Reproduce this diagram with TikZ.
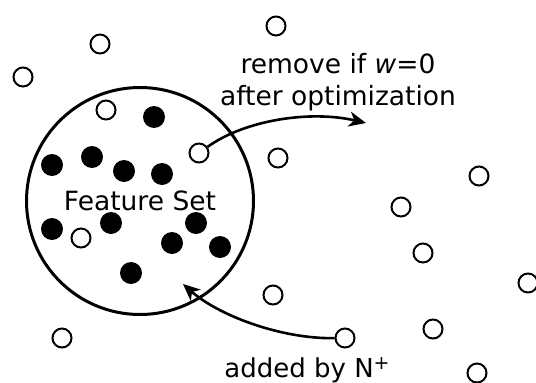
\documentclass[tikz,border=0pt]{standalone}
\usepackage{fontspec}
\setmainfont{DejaVu Sans}
\usetikzlibrary{arrows.meta}
\begin{document}
\begin{tikzpicture}[x=1pt,y=-1pt,
  opendot/.style={circle,draw,line width=2pt,minimum size=19pt,inner sep=0pt},
  fulldot/.style={circle,fill=black,minimum size=22pt,inner sep=0pt},
  lbl/.style={anchor=base,inner sep=0pt,font=\fontsize{26.5}{32}\selectfont},
  conn/.style={line width=2.6pt,-{Stealth[length=17pt,width=15pt,inset=5pt]}}]
\useasboundingbox (0,0) rectangle (536,383);
% feature set
\node[circle,draw,line width=3pt,minimum size=227pt,inner sep=0pt,
      font=\fontsize{26.5}{32}\selectfont] (fs) at (140,201) {Feature Set};
% open dots
\node[opendot] (o1) at (276,26) {};
\node[opendot] (o2) at (100,44) {};
\node[opendot] (o3) at (23,77) {};
\node[opendot] (o4) at (106,110) {};
\node[opendot] (o5) at (199,153) {};
\node[opendot] (o6) at (278,158) {};
\node[opendot] (o7) at (479,176) {};
\node[opendot] (o8) at (401,207) {};
\node[opendot] (o9) at (423,253) {};
\node[opendot] (o10) at (528,283) {};
\node[opendot] (o11) at (273,295) {};
\node[opendot] (o12) at (433,329) {};
\node[opendot] (o13) at (345,338) {};
\node[opendot] (o14) at (477,373) {};
\node[opendot] (o15) at (62,338) {};
\node[opendot] (o16) at (81,238) {};
% filled dots
\node[fulldot] (f1) at (154,117) {};
\node[fulldot] (f2) at (52,165) {};
\node[fulldot] (f3) at (92,157) {};
\node[fulldot] (f4) at (124,171) {};
\node[fulldot] (f5) at (162,174) {};
\node[fulldot] (f6) at (52,229) {};
\node[fulldot] (f7) at (111,223) {};
\node[fulldot] (f8) at (196,223) {};
\node[fulldot] (f9) at (172,243) {};
\node[fulldot] (f10) at (220,247) {};
\node[fulldot] (f11) at (131,273) {};
% labels
\node[lbl] (rm1) at (338,73) {remove if {\itshape w}=0};
\node[lbl] (rm2) at (338,105) {after optimization};
\node[lbl,font=\fontsize{26}{30}\selectfont] (add) at (307,377) {added by N\raisebox{8pt}{\fontsize{19}{19}\selectfont +}};
% connectors
\coordinate (t1) at (366,123);
\coordinate (t2) at (183,284);
\draw[conn] (o5) .. controls (245,120) and (310,110) .. (t1);
\draw[conn] (o13) .. controls (280,339) and (218,315) .. (t2);
\end{tikzpicture}
\end{document}
